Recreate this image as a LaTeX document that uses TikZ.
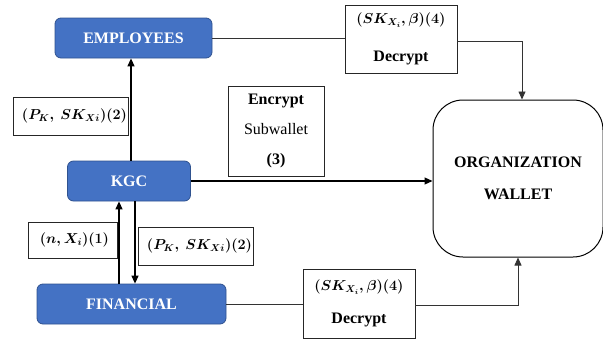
\documentclass[tikz,border=0pt]{standalone}
\usepackage{fontspec}
\setmainfont{Liberation Serif}
\usetikzlibrary{arrows.meta}
\definecolor{boxblue}{HTML}{4472C4}
\definecolor{boxedge}{HTML}{2F528F}
\begin{document}
\begin{tikzpicture}[x=1pt,y=-1pt,
  every node/.style={font=\fontsize{16}{19}\selectfont, inner sep=0pt},
  ent/.style={draw=boxedge, line width=0.8pt, fill=boxblue, rounded corners=6pt, text=white, font=\fontsize{16}{19}\selectfont\bfseries},
  lbl/.style={draw=black!85, line width=0.9pt, fill=white, align=center},
  mlbl/.style={lbl, font=\fontsize{14}{17}\selectfont\boldmath},
  conn/.style={draw=black, line width=1.2pt},
  arr/.style={conn, -{Triangle[length=8pt,width=7pt]}},
  fline/.style={draw=black!80, line width=0.8pt}
]
\useasboundingbox (0,0) rectangle (603,343);
% entities
\node[ent, minimum width=157pt, minimum height=40pt] (emp) at (133.5,38) {EMPLOYEES};
\node[ent, minimum width=123pt, minimum height=40pt] (kgc) at (129,181) {KGC};
\node[ent, minimum width=189pt, minimum height=40pt] (fin) at (131.5,304) {FINANCIAL};
\node[draw=black, line width=1pt, rounded corners=30pt, minimum width=170pt, minimum height=157pt, align=center, font=\fontsize{16}{19}\selectfont\bfseries] (org) at (518,178.5) {ORGANIZATION\\[13pt]WALLET};
% labels
\node[mlbl, minimum width=115pt, minimum height=38pt] (l2a) at (70.5,116) {\hspace*{8pt}$(P_K,\ SK_{Xi})(2)$};
\node[mlbl, minimum width=89pt, minimum height=36pt] (l1) at (72.5,240) {\hspace*{4pt}$(n,X_i)(1)$};
\node[mlbl, minimum width=115pt, minimum height=38pt] (l2b) at (195.5,246) {\hspace*{8pt}$(P_K,\ SK_{Xi})(2)$};
\node[lbl, minimum width=96pt, minimum height=90pt] (enc) at (276,131) {\textbf{Encrypt}\\[11pt]Subwallet\\[11pt]\textbf{(3)}};
\node[mlbl, minimum width=112pt, minimum height=68pt] (dec1) at (401,39) {$(SK_{X_i},\beta)(4)$\\[21pt]\fontsize{16}{19}\selectfont\textbf{Decrypt}};
\node[mlbl, minimum width=112pt, minimum height=69pt] (dec2) at (359,303.5) {$(SK_{X_i},\beta)(4)$\\[16pt]\fontsize{16}{19}\selectfont\textbf{Decrypt}};
% connectors
\draw[arr] ([xshift=2pt]kgc.north) -- ([xshift=2pt]kgc.north |- emp.south);
\draw[arr] (kgc.east) -- (kgc.east -| org.west);
\draw[arr] ([xshift=-12.5pt]fin.north) -- ([xshift=-12.5pt]fin.north |- kgc.south);
\draw[arr] ([xshift=6pt]kgc.south) -- ([xshift=6pt]kgc.south |- fin.north);
\draw[fline] (emp.east) -- (emp.east -| dec1.west);
\draw[fline, -{Triangle[length=8pt,width=7pt]}] ([yshift=-2pt]dec1.east) -| ([xshift=4pt]org.north);
\draw[fline] (fin.east) -- (fin.east -| dec2.west);
\draw[fline, -{Triangle[length=8pt,width=7pt]}] ([yshift=-1.5pt]dec2.east) -| (org.south);
\end{tikzpicture}
\end{document}
